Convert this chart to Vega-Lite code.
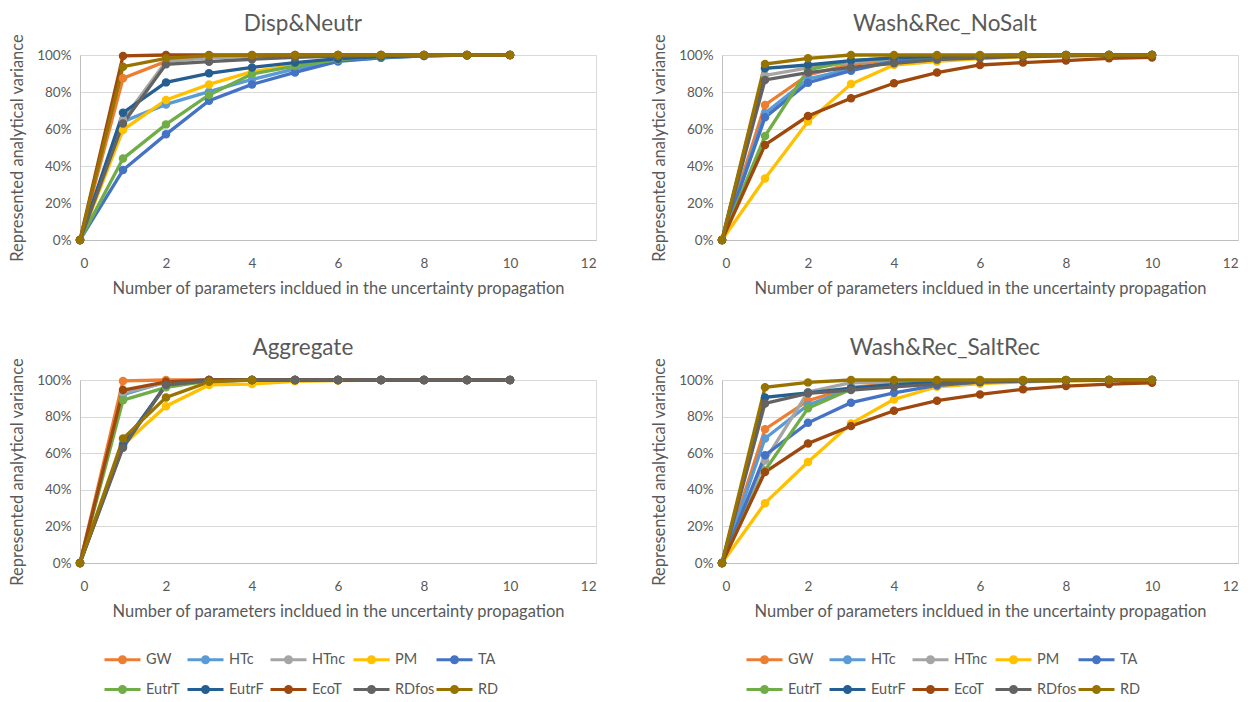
{
"$schema":"https://vega.github.io/schema/vega-lite/v6.json",
"padding":{"left":9,"top":12,"right":10,"bottom":0},
"background":"white",
"datasets":{
"d1":[
{"s":"GW","n":0,"v":0},{"s":"GW","n":1,"v":0.874},{"s":"GW","n":2,"v":0.965},{"s":"GW","n":3,"v":0.99},{"s":"GW","n":4,"v":0.996},{"s":"GW","n":5,"v":0.998},{"s":"GW","n":6,"v":1},{"s":"GW","n":7,"v":1},{"s":"GW","n":8,"v":1},{"s":"GW","n":9,"v":1},{"s":"GW","n":10,"v":1},
{"s":"HTc","n":0,"v":0},{"s":"HTc","n":1,"v":0.64},{"s":"HTc","n":2,"v":0.733},{"s":"HTc","n":3,"v":0.802},{"s":"HTc","n":4,"v":0.868},{"s":"HTc","n":5,"v":0.925},{"s":"HTc","n":6,"v":0.97},{"s":"HTc","n":7,"v":0.985},{"s":"HTc","n":8,"v":0.995},{"s":"HTc","n":9,"v":0.999},{"s":"HTc","n":10,"v":1},
{"s":"HTnc","n":0,"v":0},{"s":"HTnc","n":1,"v":0.65},{"s":"HTnc","n":2,"v":0.965},{"s":"HTnc","n":3,"v":0.985},{"s":"HTnc","n":4,"v":0.993},{"s":"HTnc","n":5,"v":0.997},{"s":"HTnc","n":6,"v":0.999},{"s":"HTnc","n":7,"v":1},{"s":"HTnc","n":8,"v":1},{"s":"HTnc","n":9,"v":1},{"s":"HTnc","n":10,"v":1},
{"s":"PM","n":0,"v":0},{"s":"PM","n":1,"v":0.595},{"s":"PM","n":2,"v":0.757},{"s":"PM","n":3,"v":0.841},{"s":"PM","n":4,"v":0.91},{"s":"PM","n":5,"v":0.945},{"s":"PM","n":6,"v":0.975},{"s":"PM","n":7,"v":0.99},{"s":"PM","n":8,"v":0.997},{"s":"PM","n":9,"v":0.999},{"s":"PM","n":10,"v":1},
{"s":"TA","n":0,"v":0},{"s":"TA","n":1,"v":0.378},{"s":"TA","n":2,"v":0.571},{"s":"TA","n":3,"v":0.753},{"s":"TA","n":4,"v":0.841},{"s":"TA","n":5,"v":0.906},{"s":"TA","n":6,"v":0.965},{"s":"TA","n":7,"v":0.985},{"s":"TA","n":8,"v":0.995},{"s":"TA","n":9,"v":0.999},{"s":"TA","n":10,"v":1},
{"s":"EutrT","n":0,"v":0},{"s":"EutrT","n":1,"v":0.44},{"s":"EutrT","n":2,"v":0.625},{"s":"EutrT","n":3,"v":0.784},{"s":"EutrT","n":4,"v":0.897},{"s":"EutrT","n":5,"v":0.94},{"s":"EutrT","n":6,"v":0.975},{"s":"EutrT","n":7,"v":0.99},{"s":"EutrT","n":8,"v":0.997},{"s":"EutrT","n":9,"v":0.999},{"s":"EutrT","n":10,"v":1},
{"s":"EutrF","n":0,"v":0},{"s":"EutrF","n":1,"v":0.688},{"s":"EutrF","n":2,"v":0.852},{"s":"EutrF","n":3,"v":0.901},{"s":"EutrF","n":4,"v":0.933},{"s":"EutrF","n":5,"v":0.959},{"s":"EutrF","n":6,"v":0.98},{"s":"EutrF","n":7,"v":0.992},{"s":"EutrF","n":8,"v":0.997},{"s":"EutrF","n":9,"v":0.999},{"s":"EutrF","n":10,"v":1},
{"s":"EcoT","n":0,"v":0},{"s":"EcoT","n":1,"v":0.995},{"s":"EcoT","n":2,"v":1},{"s":"EcoT","n":3,"v":1},{"s":"EcoT","n":4,"v":1},{"s":"EcoT","n":5,"v":1},{"s":"EcoT","n":6,"v":1},{"s":"EcoT","n":7,"v":1},{"s":"EcoT","n":8,"v":1},{"s":"EcoT","n":9,"v":1},{"s":"EcoT","n":10,"v":1},
{"s":"RDfos","n":0,"v":0},{"s":"RDfos","n":1,"v":0.63},{"s":"RDfos","n":2,"v":0.95},{"s":"RDfos","n":3,"v":0.964},{"s":"RDfos","n":4,"v":0.977},{"s":"RDfos","n":5,"v":0.987},{"s":"RDfos","n":6,"v":0.994},{"s":"RDfos","n":7,"v":0.998},{"s":"RDfos","n":8,"v":0.999},{"s":"RDfos","n":9,"v":1},{"s":"RDfos","n":10,"v":1},
{"s":"RD","n":0,"v":0},{"s":"RD","n":1,"v":0.937},{"s":"RD","n":2,"v":0.982},{"s":"RD","n":3,"v":0.997},{"s":"RD","n":4,"v":0.999},{"s":"RD","n":5,"v":1},{"s":"RD","n":6,"v":1},{"s":"RD","n":7,"v":1},{"s":"RD","n":8,"v":1},{"s":"RD","n":9,"v":1},{"s":"RD","n":10,"v":1}
],
"d2":[
{"s":"GW","n":0,"v":0},{"s":"GW","n":1,"v":0.73},{"s":"GW","n":2,"v":0.892},{"s":"GW","n":3,"v":0.95},{"s":"GW","n":4,"v":0.975},{"s":"GW","n":5,"v":0.99},{"s":"GW","n":6,"v":0.995},{"s":"GW","n":7,"v":0.998},{"s":"GW","n":8,"v":0.999},{"s":"GW","n":9,"v":1},{"s":"GW","n":10,"v":1},
{"s":"HTc","n":0,"v":0},{"s":"HTc","n":1,"v":0.685},{"s":"HTc","n":2,"v":0.87},{"s":"HTc","n":3,"v":0.925},{"s":"HTc","n":4,"v":0.965},{"s":"HTc","n":5,"v":0.985},{"s":"HTc","n":6,"v":0.993},{"s":"HTc","n":7,"v":0.997},{"s":"HTc","n":8,"v":0.999},{"s":"HTc","n":9,"v":1},{"s":"HTc","n":10,"v":1},
{"s":"HTnc","n":0,"v":0},{"s":"HTnc","n":1,"v":0.89},{"s":"HTnc","n":2,"v":0.93},{"s":"HTnc","n":3,"v":0.96},{"s":"HTnc","n":4,"v":0.98},{"s":"HTnc","n":5,"v":0.99},{"s":"HTnc","n":6,"v":0.995},{"s":"HTnc","n":7,"v":0.998},{"s":"HTnc","n":8,"v":0.999},{"s":"HTnc","n":9,"v":1},{"s":"HTnc","n":10,"v":1},
{"s":"PM","n":0,"v":0},{"s":"PM","n":1,"v":0.333},{"s":"PM","n":2,"v":0.64},{"s":"PM","n":3,"v":0.843},{"s":"PM","n":4,"v":0.946},{"s":"PM","n":5,"v":0.965},{"s":"PM","n":6,"v":0.98},{"s":"PM","n":7,"v":0.99},{"s":"PM","n":8,"v":0.995},{"s":"PM","n":9,"v":0.998},{"s":"PM","n":10,"v":1},
{"s":"TA","n":0,"v":0},{"s":"TA","n":1,"v":0.663},{"s":"TA","n":2,"v":0.85},{"s":"TA","n":3,"v":0.915},{"s":"TA","n":4,"v":0.965},{"s":"TA","n":5,"v":0.985},{"s":"TA","n":6,"v":0.993},{"s":"TA","n":7,"v":0.997},{"s":"TA","n":8,"v":0.999},{"s":"TA","n":9,"v":1},{"s":"TA","n":10,"v":1},
{"s":"EutrT","n":0,"v":0},{"s":"EutrT","n":1,"v":0.562},{"s":"EutrT","n":2,"v":0.92},{"s":"EutrT","n":3,"v":0.97},{"s":"EutrT","n":4,"v":0.985},{"s":"EutrT","n":5,"v":0.993},{"s":"EutrT","n":6,"v":0.997},{"s":"EutrT","n":7,"v":0.999},{"s":"EutrT","n":8,"v":1},{"s":"EutrT","n":9,"v":1},{"s":"EutrT","n":10,"v":1},
{"s":"EutrF","n":0,"v":0},{"s":"EutrF","n":1,"v":0.928},{"s":"EutrF","n":2,"v":0.946},{"s":"EutrF","n":3,"v":0.97},{"s":"EutrF","n":4,"v":0.985},{"s":"EutrF","n":5,"v":0.993},{"s":"EutrF","n":6,"v":0.997},{"s":"EutrF","n":7,"v":0.999},{"s":"EutrF","n":8,"v":1},{"s":"EutrF","n":9,"v":1},{"s":"EutrF","n":10,"v":1},
{"s":"EcoT","n":0,"v":0},{"s":"EcoT","n":1,"v":0.514},{"s":"EcoT","n":2,"v":0.67},{"s":"EcoT","n":3,"v":0.766},{"s":"EcoT","n":4,"v":0.847},{"s":"EcoT","n":5,"v":0.905},{"s":"EcoT","n":6,"v":0.946},{"s":"EcoT","n":7,"v":0.959},{"s":"EcoT","n":8,"v":0.97},{"s":"EcoT","n":9,"v":0.982},{"s":"EcoT","n":10,"v":0.987},
{"s":"RDfos","n":0,"v":0},{"s":"RDfos","n":1,"v":0.865},{"s":"RDfos","n":2,"v":0.905},{"s":"RDfos","n":3,"v":0.933},{"s":"RDfos","n":4,"v":0.955},{"s":"RDfos","n":5,"v":0.975},{"s":"RDfos","n":6,"v":0.985},{"s":"RDfos","n":7,"v":0.992},{"s":"RDfos","n":8,"v":0.996},{"s":"RDfos","n":9,"v":0.999},{"s":"RDfos","n":10,"v":1},
{"s":"RD","n":0,"v":0},{"s":"RD","n":1,"v":0.951},{"s":"RD","n":2,"v":0.982},{"s":"RD","n":3,"v":1},{"s":"RD","n":4,"v":1},{"s":"RD","n":5,"v":1},{"s":"RD","n":6,"v":1},{"s":"RD","n":7,"v":1},{"s":"RD","n":8,"v":1},{"s":"RD","n":9,"v":1},{"s":"RD","n":10,"v":1}
],
"d3":[
{"s":"GW","n":0,"v":0},{"s":"GW","n":1,"v":0.995},{"s":"GW","n":2,"v":1},{"s":"GW","n":3,"v":1},{"s":"GW","n":4,"v":1},{"s":"GW","n":5,"v":1},{"s":"GW","n":6,"v":1},{"s":"GW","n":7,"v":1},{"s":"GW","n":8,"v":1},{"s":"GW","n":9,"v":1},{"s":"GW","n":10,"v":1},
{"s":"HTc","n":0,"v":0},{"s":"HTc","n":1,"v":0.92},{"s":"HTc","n":2,"v":0.99},{"s":"HTc","n":3,"v":1},{"s":"HTc","n":4,"v":1},{"s":"HTc","n":5,"v":1},{"s":"HTc","n":6,"v":1},{"s":"HTc","n":7,"v":1},{"s":"HTc","n":8,"v":1},{"s":"HTc","n":9,"v":1},{"s":"HTc","n":10,"v":1},
{"s":"HTnc","n":0,"v":0},{"s":"HTnc","n":1,"v":0.93},{"s":"HTnc","n":2,"v":0.985},{"s":"HTnc","n":3,"v":1},{"s":"HTnc","n":4,"v":1},{"s":"HTnc","n":5,"v":1},{"s":"HTnc","n":6,"v":1},{"s":"HTnc","n":7,"v":1},{"s":"HTnc","n":8,"v":1},{"s":"HTnc","n":9,"v":1},{"s":"HTnc","n":10,"v":1},
{"s":"PM","n":0,"v":0},{"s":"PM","n":1,"v":0.645},{"s":"PM","n":2,"v":0.857},{"s":"PM","n":3,"v":0.973},{"s":"PM","n":4,"v":0.978},{"s":"PM","n":5,"v":0.993},{"s":"PM","n":6,"v":0.997},{"s":"PM","n":7,"v":1},{"s":"PM","n":8,"v":1},{"s":"PM","n":9,"v":1},{"s":"PM","n":10,"v":1},
{"s":"TA","n":0,"v":0},{"s":"TA","n":1,"v":0.65},{"s":"TA","n":2,"v":0.97},{"s":"TA","n":3,"v":0.995},{"s":"TA","n":4,"v":1},{"s":"TA","n":5,"v":1},{"s":"TA","n":6,"v":1},{"s":"TA","n":7,"v":1},{"s":"TA","n":8,"v":1},{"s":"TA","n":9,"v":1},{"s":"TA","n":10,"v":1},
{"s":"EutrT","n":0,"v":0},{"s":"EutrT","n":1,"v":0.89},{"s":"EutrT","n":2,"v":0.96},{"s":"EutrT","n":3,"v":0.995},{"s":"EutrT","n":4,"v":1},{"s":"EutrT","n":5,"v":1},{"s":"EutrT","n":6,"v":1},{"s":"EutrT","n":7,"v":1},{"s":"EutrT","n":8,"v":1},{"s":"EutrT","n":9,"v":1},{"s":"EutrT","n":10,"v":1},
{"s":"EutrF","n":0,"v":0},{"s":"EutrF","n":1,"v":0.64},{"s":"EutrF","n":2,"v":0.975},{"s":"EutrF","n":3,"v":1},{"s":"EutrF","n":4,"v":1},{"s":"EutrF","n":5,"v":1},{"s":"EutrF","n":6,"v":1},{"s":"EutrF","n":7,"v":1},{"s":"EutrF","n":8,"v":1},{"s":"EutrF","n":9,"v":1},{"s":"EutrF","n":10,"v":1},
{"s":"EcoT","n":0,"v":0},{"s":"EcoT","n":1,"v":0.945},{"s":"EcoT","n":2,"v":0.99},{"s":"EcoT","n":3,"v":1},{"s":"EcoT","n":4,"v":1},{"s":"EcoT","n":5,"v":1},{"s":"EcoT","n":6,"v":1},{"s":"EcoT","n":7,"v":1},{"s":"EcoT","n":8,"v":1},{"s":"EcoT","n":9,"v":1},{"s":"EcoT","n":10,"v":1},
{"s":"RDfos","n":0,"v":0},{"s":"RDfos","n":1,"v":0.63},{"s":"RDfos","n":2,"v":0.973},{"s":"RDfos","n":3,"v":0.995},{"s":"RDfos","n":4,"v":1},{"s":"RDfos","n":5,"v":1},{"s":"RDfos","n":6,"v":1},{"s":"RDfos","n":7,"v":1},{"s":"RDfos","n":8,"v":1},{"s":"RDfos","n":9,"v":1},{"s":"RDfos","n":10,"v":1},
{"s":"RD","n":0,"v":0},{"s":"RD","n":1,"v":0.68},{"s":"RD","n":2,"v":0.905},{"s":"RD","n":3,"v":0.99},{"s":"RD","n":4,"v":1}
],
"d4":[
{"s":"GW","n":0,"v":0},{"s":"GW","n":1,"v":0.731},{"s":"GW","n":2,"v":0.887},{"s":"GW","n":3,"v":0.96},{"s":"GW","n":4,"v":0.98},{"s":"GW","n":5,"v":0.99},{"s":"GW","n":6,"v":0.995},{"s":"GW","n":7,"v":0.998},{"s":"GW","n":8,"v":0.999},{"s":"GW","n":9,"v":1},{"s":"GW","n":10,"v":1},
{"s":"HTc","n":0,"v":0},{"s":"HTc","n":1,"v":0.68},{"s":"HTc","n":2,"v":0.863},{"s":"HTc","n":3,"v":0.95},{"s":"HTc","n":4,"v":0.975},{"s":"HTc","n":5,"v":0.988},{"s":"HTc","n":6,"v":0.994},{"s":"HTc","n":7,"v":0.997},{"s":"HTc","n":8,"v":0.999},{"s":"HTc","n":9,"v":1},{"s":"HTc","n":10,"v":1},
{"s":"HTnc","n":0,"v":0},{"s":"HTnc","n":1,"v":0.56},{"s":"HTnc","n":2,"v":0.935},{"s":"HTnc","n":3,"v":0.985},{"s":"HTnc","n":4,"v":0.99},{"s":"HTnc","n":5,"v":0.995},{"s":"HTnc","n":6,"v":0.998},{"s":"HTnc","n":7,"v":0.999},{"s":"HTnc","n":8,"v":1},{"s":"HTnc","n":9,"v":1},{"s":"HTnc","n":10,"v":1},
{"s":"PM","n":0,"v":0},{"s":"PM","n":1,"v":0.327},{"s":"PM","n":2,"v":0.552},{"s":"PM","n":3,"v":0.762},{"s":"PM","n":4,"v":0.894},{"s":"PM","n":5,"v":0.963},{"s":"PM","n":6,"v":0.98},{"s":"PM","n":7,"v":0.99},{"s":"PM","n":8,"v":0.995},{"s":"PM","n":9,"v":0.998},{"s":"PM","n":10,"v":1},
{"s":"TA","n":0,"v":0},{"s":"TA","n":1,"v":0.589},{"s":"TA","n":2,"v":0.766},{"s":"TA","n":3,"v":0.876},{"s":"TA","n":4,"v":0.93},{"s":"TA","n":5,"v":0.97},{"s":"TA","n":6,"v":0.99},{"s":"TA","n":7,"v":0.995},{"s":"TA","n":8,"v":0.998},{"s":"TA","n":9,"v":0.999},{"s":"TA","n":10,"v":1},
{"s":"EutrT","n":0,"v":0},{"s":"EutrT","n":1,"v":0.506},{"s":"EutrT","n":2,"v":0.845},{"s":"EutrT","n":3,"v":0.95},{"s":"EutrT","n":4,"v":0.975},{"s":"EutrT","n":5,"v":0.988},{"s":"EutrT","n":6,"v":0.994},{"s":"EutrT","n":7,"v":0.997},{"s":"EutrT","n":8,"v":0.999},{"s":"EutrT","n":9,"v":1},{"s":"EutrT","n":10,"v":1},
{"s":"EutrF","n":0,"v":0},{"s":"EutrF","n":1,"v":0.905},{"s":"EutrF","n":2,"v":0.93},{"s":"EutrF","n":3,"v":0.955},{"s":"EutrF","n":4,"v":0.975},{"s":"EutrF","n":5,"v":0.985},{"s":"EutrF","n":6,"v":0.993},{"s":"EutrF","n":7,"v":0.997},{"s":"EutrF","n":8,"v":0.999},{"s":"EutrF","n":9,"v":1},{"s":"EutrF","n":10,"v":1},
{"s":"EcoT","n":0,"v":0},{"s":"EcoT","n":1,"v":0.497},{"s":"EcoT","n":2,"v":0.653},{"s":"EcoT","n":3,"v":0.748},{"s":"EcoT","n":4,"v":0.832},{"s":"EcoT","n":5,"v":0.887},{"s":"EcoT","n":6,"v":0.921},{"s":"EcoT","n":7,"v":0.949},{"s":"EcoT","n":8,"v":0.967},{"s":"EcoT","n":9,"v":0.978},{"s":"EcoT","n":10,"v":0.985},
{"s":"RDfos","n":0,"v":0},{"s":"RDfos","n":1,"v":0.872},{"s":"RDfos","n":2,"v":0.927},{"s":"RDfos","n":3,"v":0.945},{"s":"RDfos","n":4,"v":0.963},{"s":"RDfos","n":5,"v":0.978},{"s":"RDfos","n":6,"v":0.988},{"s":"RDfos","n":7,"v":0.994},{"s":"RDfos","n":8,"v":0.997},{"s":"RDfos","n":9,"v":0.999},{"s":"RDfos","n":10,"v":1},
{"s":"RD","n":0,"v":0},{"s":"RD","n":1,"v":0.96},{"s":"RD","n":2,"v":0.987},{"s":"RD","n":3,"v":1},{"s":"RD","n":4,"v":1},{"s":"RD","n":5,"v":1},{"s":"RD","n":6,"v":1},{"s":"RD","n":7,"v":1},{"s":"RD","n":8,"v":1},{"s":"RD","n":9,"v":1},{"s":"RD","n":10,"v":1}
]
},
"columns":2,
"spacing":{"row":38,"column":54},
"resolve":{"legend":{"color":"independent"}},
"concat":[
{"title":"Disp&Neutr","width":516,"height":185,"data":{"name":"d1"},
 "encoding":{
  "x":{"field":"n","type":"quantitative","scale":{"domain":[0,12]},"axis":{"values":[0,2,4,6,8,10,12],"title":"Number of parameters incldued in the uncertainty propagation"}},
  "y":{"field":"v","type":"quantitative","scale":{"domain":[0,1]},"axis":{"values":[0,0.2,0.4,0.6,0.8,1],"format":".0%","title":"Represented analytical variance"}},
  "color":{"field":"s","type":"nominal","scale":{"domain":["GW","HTc","HTnc","PM","TA","EutrT","EutrF","EcoT","RDfos","RD"],"range":["#ED7D31","#5B9BD5","#A5A5A5","#FFC000","#4472C4","#70AD47","#255E91","#9E480E","#636363","#997300"]},"legend":null}},
 "layer":[{"mark":{"type":"line","strokeWidth":3.3}},{"mark":{"type":"point","filled":true,"size":72,"opacity":1}}]},
{"title":"Wash&Rec_NoSalt","width":516,"height":185,"data":{"name":"d2"},
 "encoding":{
  "x":{"field":"n","type":"quantitative","scale":{"domain":[0,12]},"axis":{"values":[0,2,4,6,8,10,12],"title":"Number of parameters incldued in the uncertainty propagation"}},
  "y":{"field":"v","type":"quantitative","scale":{"domain":[0,1]},"axis":{"values":[0,0.2,0.4,0.6,0.8,1],"format":".0%","title":"Represented analytical variance"}},
  "color":{"field":"s","type":"nominal","scale":{"domain":["GW","HTc","HTnc","PM","TA","EutrT","EutrF","EcoT","RDfos","RD"],"range":["#ED7D31","#5B9BD5","#A5A5A5","#FFC000","#4472C4","#70AD47","#255E91","#9E480E","#636363","#997300"]},"legend":null}},
 "layer":[{"mark":{"type":"line","strokeWidth":3.3}},{"mark":{"type":"point","filled":true,"size":72,"opacity":1}}]},
{"title":"Aggregate","width":516,"height":183,"data":{"name":"d3"},
 "encoding":{
  "x":{"field":"n","type":"quantitative","scale":{"domain":[0,12]},"axis":{"values":[0,2,4,6,8,10,12],"title":"Number of parameters incldued in the uncertainty propagation"}},
  "y":{"field":"v","type":"quantitative","scale":{"domain":[0,1]},"axis":{"values":[0,0.2,0.4,0.6,0.8,1],"format":".0%","title":"Represented analytical variance"}},
  "color":{"field":"s","type":"nominal","scale":{"domain":["GW","HTc","HTnc","PM","TA","EutrT","EutrF","EcoT","RDfos","RD"],"range":["#ED7D31","#5B9BD5","#A5A5A5","#FFC000","#4472C4","#70AD47","#255E91","#9E480E","#636363","#997300"]},
   "legend":{"orient":"none","legendX":29,"legendY":266,"direction":"horizontal","columns":5,"gridAlign":"all","title":null,"symbolType":"M-1.5,0L1.5,0M0.25,0A0.25,0.25,0,1,1,-0.25,0A0.25,0.25,0,1,1,0.25,0M0.12,0A0.12,0.12,0,1,1,-0.12,0A0.12,0.12,0,1,1,0.12,0","symbolSize":576,"symbolStrokeWidth":3,"labelOffset":10,"columnPadding":-5,"rowPadding":7}}},
 "layer":[{"mark":{"type":"line","strokeWidth":3.3}},{"mark":{"type":"point","filled":true,"size":72,"opacity":1}}]},
{"title":"Wash&Rec_SaltRec","width":516,"height":183,"data":{"name":"d4"},
 "encoding":{
  "x":{"field":"n","type":"quantitative","scale":{"domain":[0,12]},"axis":{"values":[0,2,4,6,8,10,12],"title":"Number of parameters incldued in the uncertainty propagation"}},
  "y":{"field":"v","type":"quantitative","scale":{"domain":[0,1]},"axis":{"values":[0,0.2,0.4,0.6,0.8,1],"format":".0%","title":"Represented analytical variance"}},
  "color":{"field":"s","type":"nominal","scale":{"domain":["GW","HTc","HTnc","PM","TA","EutrT","EutrF","EcoT","RDfos","RD"],"range":["#ED7D31","#5B9BD5","#A5A5A5","#FFC000","#4472C4","#70AD47","#255E91","#9E480E","#636363","#997300"]},
   "legend":{"orient":"none","legendX":29,"legendY":266,"direction":"horizontal","columns":5,"gridAlign":"all","title":null,"symbolType":"M-1.5,0L1.5,0M0.25,0A0.25,0.25,0,1,1,-0.25,0A0.25,0.25,0,1,1,0.25,0M0.12,0A0.12,0.12,0,1,1,-0.12,0A0.12,0.12,0,1,1,0.12,0","symbolSize":576,"symbolStrokeWidth":3,"labelOffset":10,"columnPadding":-5,"rowPadding":7}}},
 "layer":[{"mark":{"type":"line","strokeWidth":3.3}},{"mark":{"type":"point","filled":true,"size":72,"opacity":1}}]}
],
"config":{
 "font":"Lato",
 "view":{"stroke":"#D9D9D9"},
 "title":{"fontSize":22.5,"fontWeight":"normal","color":"#595959","frame":"bounds","anchor":"middle","offset":-2},
 "axis":{"labelColor":"#595959","titleColor":"#595959","labelFontSize":13.5,"titleFontSize":16.5,"titleFontWeight":"normal","gridColor":"#D9D9D9","domainColor":"#BFBFBF","ticks":false},
 "axisX":{"grid":false,"labelPadding":16,"titlePadding":11},
 "axisY":{"labelPadding":9,"titlePadding":11},
 "legend":{"labelFontSize":14.5,"labelColor":"#595959","labelFont":"Lato"}
}
}
